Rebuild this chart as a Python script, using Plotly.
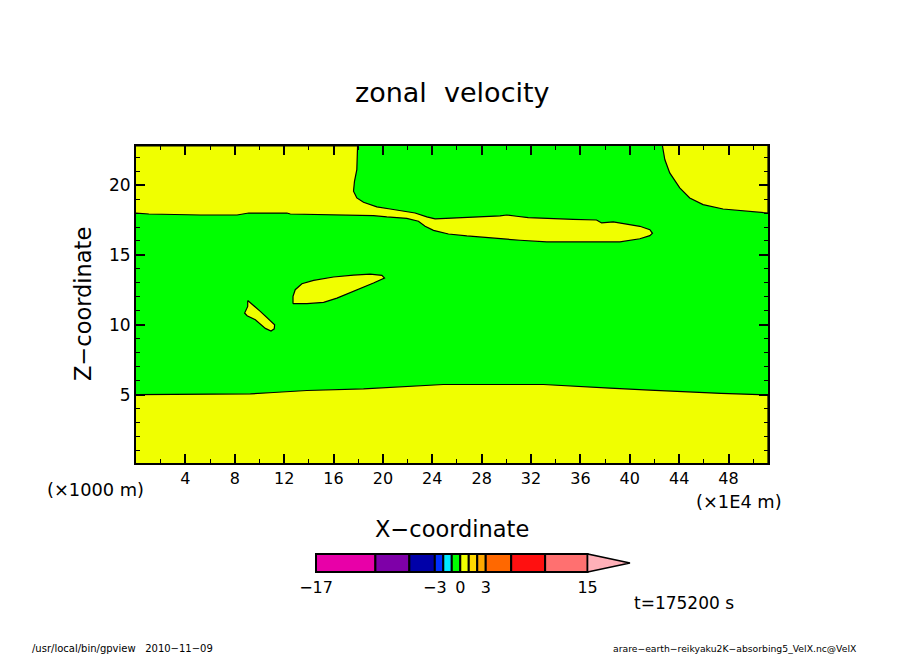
import plotly.graph_objects as go

# contour outlines of the 0 m/s level (x in 1E4 m, z in 1000 m)
top_left_x = [0, 1.04, 5.22, 8.19, 9.13, 12.23, 12.5, 16.0, 19.24, 20.32, 21.94, 22.88, 23.42, 24.1, 25.31, 26.8,
              28.95, 31.11, 33.27, 36.5, 39.2, 40.82, 41.63, 41.84, 41.63, 40.82, 39.2, 38.66, 37.72, 37.31, 35.42,
              33.54, 31.78, 30.84, 30.03, 29.49, 27.74, 25.44, 24.64, 24.23, 23.56, 22.61, 20.59, 19.51, 18.43,
              17.89, 17.62, 17.7, 17.89, 17.95, 0]
top_left_z = [18.0, 17.93, 17.86, 17.86, 18.0, 18.0, 17.93, 17.86, 17.81, 17.72, 17.62, 17.41, 17.05, 16.76, 16.5,
              16.36, 16.19, 16.05, 15.93, 15.93, 15.93, 16.16, 16.38, 16.55, 16.81, 17.05, 17.31, 17.36, 17.29,
              17.5, 17.55, 17.62, 17.67, 17.77, 17.86, 17.79, 17.72, 17.65, 17.58, 17.58, 17.72, 18.0, 18.29,
              18.44, 18.77, 19.08, 19.56, 20.27, 21.11, 22.8, 22.8]

top_right_x = [42.65, 42.84, 43.24, 44.05, 44.86, 45.94, 47.56, 49.18, 51.2, 51.2]
top_right_z = [22.8, 21.83, 20.87, 19.8, 19.08, 18.6, 18.29, 18.15, 18.0, 22.8]

bottom_x = [0, 9.26, 11.15, 13.85, 18.43, 21.67, 24.9, 33.0, 35.15, 38.4, 41.6, 45.3, 47.4, 50.5, 51.2, 51.2, 0]
bottom_z = [5.0, 5.05, 5.15, 5.29, 5.41, 5.58, 5.72, 5.72, 5.6, 5.46, 5.32, 5.15, 5.08, 5.0, 4.95, 0, 0]

big_island_x = [12.72, 12.72, 12.9, 13.44, 14.39, 16.0, 17.62, 18.97, 19.92, 20.13, 19.24, 17.62, 16.28, 15.2, 13.85, 12.72]
big_island_z = [11.51, 12.03, 12.51, 12.94, 13.18, 13.42, 13.56, 13.63, 13.54, 13.35, 12.99, 12.39, 11.91, 11.6, 11.51, 11.51]

small_island_x = [9.05, 10.07, 11.23, 11.2, 10.94, 10.48, 9.67, 9.0, 8.8, 9.05, 9.05]
small_island_z = [11.74, 10.96, 10.0, 9.71, 9.55, 9.74, 10.36, 10.65, 10.84, 11.31, 11.74]

regions = [(top_left_x, top_left_z), (top_right_x, top_right_z), (bottom_x, bottom_z),
           (big_island_x, big_island_z), (small_island_x, small_island_z)]

# colour bar
levels = [-17, -10, -6, -3, -2, -1, 0, 1, 2, 3, 6, 10, 15]
level_colors = ['#E800A8', '#7E00A8', '#0000A8', '#0030FF', '#00E8FF', '#00FF00', '#F0FF00',
                '#FFD800', '#FFA800', '#FF6800', '#FF1010', '#FF7070']
tip_x = [15, 20, 15, 15]
tip_y = [0, 0.5, 1, 0]
bar_ticks = [-17, -3, 0, 3, 15]
bar_labels = ['−17', '−3', '0', '3', '15']

x_ticks = list(range(4, 49, 4))
z_ticks = [5, 10, 15, 20]

FONT = 'DejaVu Sans'
# the page body has an 8 px margin, positions below are page pixels
OFF = 8
W, H = 896, 646


def xpos(px):
    return (px - OFF) / W


def ypos(py):
    return 1 - (py - OFF) / H


fig = go.Figure()

for rx, rz in regions:
    fig.add_trace(go.Scatter(x=rx, y=rz, mode='lines', fill='toself', fillcolor='#F0FF00',
                             line=dict(color='black', width=1.2), hoverinfo='skip', showlegend=False))

fig.add_trace(go.Bar(x=[levels[i + 1] - levels[i] for i in range(len(level_colors))],
                     base=levels[:-1], y=[0.5] * len(level_colors), width=1, orientation='h',
                     marker=dict(color=level_colors, line=dict(color='black', width=2)),
                     xaxis='x2', yaxis='y2', showlegend=False))
fig.add_trace(go.Scatter(x=tip_x, y=tip_y, mode='lines', fill='toself', fillcolor='#FFB0B8',
                         line=dict(color='black', width=1.5), xaxis='x2', yaxis='y2', showlegend=False))

fig.add_shape(type='rect', xref='x domain', yref='y domain', x0=0, x1=1, y0=0, y1=1,
              fillcolor='#00FF00', line_width=0, layer='below')

fig.update_layout(
    width=W, height=H, margin=dict(l=0, r=0, t=0, b=0, autoexpand=False),
    paper_bgcolor='white', plot_bgcolor='white', font=dict(family=FONT, color='black'),
    showlegend=False, barmode='overlay',
    xaxis=dict(domain=[xpos(136), xpos(768)], range=[0, 51.2], anchor='y', tickvals=x_ticks,
               ticks='inside', ticklen=9, tickwidth=2, tickcolor='black', tickfont=dict(size=16),
               minor=dict(tickvals=[t + 2 for t in range(0, 50, 4)], ticks='inside', ticklen=4, tickwidth=1, tickcolor='black'),
               showgrid=False, zeroline=False, showline=True, linecolor='black', linewidth=2, mirror='allticks'),
    yaxis=dict(domain=[ypos(463), ypos(146)], range=[0.1, 22.8], anchor='x', tickvals=z_ticks,
               ticks='inside', ticklen=9, tickwidth=2, tickcolor='black', tickfont=dict(size=17),
               minor=dict(tickvals=[v for v in range(1, 23) if v % 5], ticks='inside', ticklen=4, tickwidth=1, tickcolor='black'),
               showgrid=False, zeroline=False, showline=True, linecolor='black', linewidth=2, mirror='allticks'),
    xaxis2=dict(domain=[xpos(314.3), xpos(630.85)], range=[-17.2, 20.1], anchor='y2', tickvals=bar_ticks, ticktext=bar_labels,
                ticks='outside', ticklen=0, tickcolor='rgba(0,0,0,0)', tickfont=dict(size=16),
                showgrid=False, zeroline=False, showline=False),
    yaxis2=dict(domain=[ypos(573), ypos(553)], range=[-0.05, 1.05], anchor='x2', visible=False),
    annotations=[
        dict(text=t, x=xpos(x), y=ypos(y), xref='paper', yref='paper', showarrow=False, font=dict(size=s), textangle=a,
             xanchor='center', yanchor='middle')
        for t, x, y, s, a in [
            ('zonal  velocity', 452, 93, 27, 0),
            ('X−coordinate', 452, 529, 22.5, 0),
            ('Z−coordinate', 83, 304, 22.5, -90),
            ('(×1000 m)', 95, 490, 17.8, 0),
            ('(×1E4 m)', 739, 502, 17.8, 0),
            ('t=175200 s', 684, 603, 17, 0),
            ('/usr/local/bin/gpview   2010−11−09', 123, 648, 10, 0),
            ('arare−earth−reikyaku2K−absorbing5_VelX.nc@VelX', 735, 648, 9.25, 0),
        ]
    ],
)

fig.write_html("out.html")
